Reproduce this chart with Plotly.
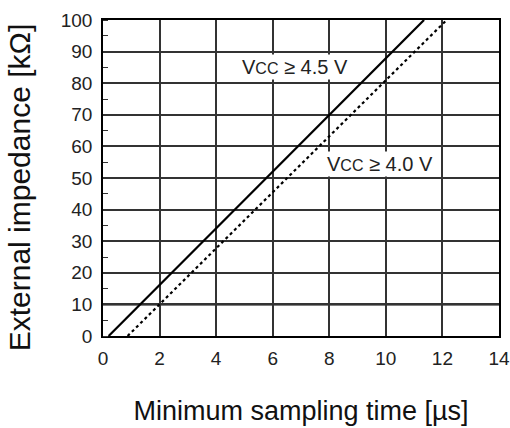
import plotly.graph_objects as go

# Data
vcc45_x = [0.2, 11.35]
vcc45_y = [0, 100]
vcc40_x = [0.87, 12.15]
vcc40_y = [0, 100]

x_ticks = [0, 2, 4, 6, 8, 10, 12, 14]
y_ticks = [0, 10, 20, 30, 40, 50, 60, 70, 80, 90, 100]

labels = ["V<span style='font-size:16px'>CC</span> ≥ 4.5 V", "V<span style='font-size:16px'>CC</span> ≥ 4.0 V"]
label_x = [6.78, 9.8]
label_y = [85, 54.5]

highlight_y = 10

x_title = "Minimum sampling time [µs]"
y_title = "External impedance [kΩ]"

FONT = "Liberation Sans, Arial, sans-serif"

fig = go.Figure()
fig.add_trace(go.Scatter(x=vcc45_x, y=vcc45_y, mode="lines",
                         line=dict(color="black", width=2.2), showlegend=False))
fig.add_trace(go.Scatter(x=vcc40_x, y=vcc40_y, mode="lines",
                         line=dict(color="black", width=2.2, dash="dot"), showlegend=False))

fig.add_hline(y=highlight_y, line=dict(color="black", width=2), layer="below")

for t, lx, ly in zip(labels, label_x, label_y):
    fig.add_annotation(x=lx, y=ly, text=t, showarrow=False,
                       font=dict(family=FONT, size=20, color="#222"),
                       bgcolor="white", borderpad=1)

# y-axis title (placed slightly below the plot centre, as in the original)
fig.add_annotation(text=y_title, xref="paper", yref="paper", x=-0.21, y=0.47,
                   xanchor="center", yanchor="middle", textangle=-90, showarrow=False,
                   font=dict(family=FONT, size=30, color="#111"))

fig.update_layout(
    width=510, height=428,
    margin=dict(l=103, r=11, t=20, b=92),
    plot_bgcolor="white", paper_bgcolor="white",
    font=dict(family=FONT, size=19, color="#222"),
)
fig.update_xaxes(
    range=[0, 14], tickvals=x_ticks, ticktext=[str(v) for v in x_ticks],
    showgrid=True, gridcolor="#333", gridwidth=1.5,
    showline=True, linecolor="black", linewidth=1.5, mirror=True,
    ticks="", ticklen=0, zeroline=False, ticklabeloverflow="allow", automargin=False,
    tickfont=dict(family=FONT, size=19), ticklabelstandoff=4,
    title=dict(text=x_title, font=dict(family=FONT, size=27, color="#111"), standoff=34),
)
fig.update_yaxes(
    range=[0, 100], tickvals=y_ticks,
    showgrid=True, gridcolor="#333", gridwidth=1.5,
    showline=True, linecolor="black", linewidth=1.5, mirror=True,
    ticks="", zeroline=False, automargin=False,
    minor=dict(dtick=5, ticks="inside", ticklen=5, tickcolor="#333", tickwidth=1.2, showgrid=False),
    tickfont=dict(family=FONT, size=19), ticklabelstandoff=5,
)

fig.write_html("out.html", config={"displayModeBar": False},
               post_script="document.body.style.margin='0';document.body.style.overflow='hidden';")
